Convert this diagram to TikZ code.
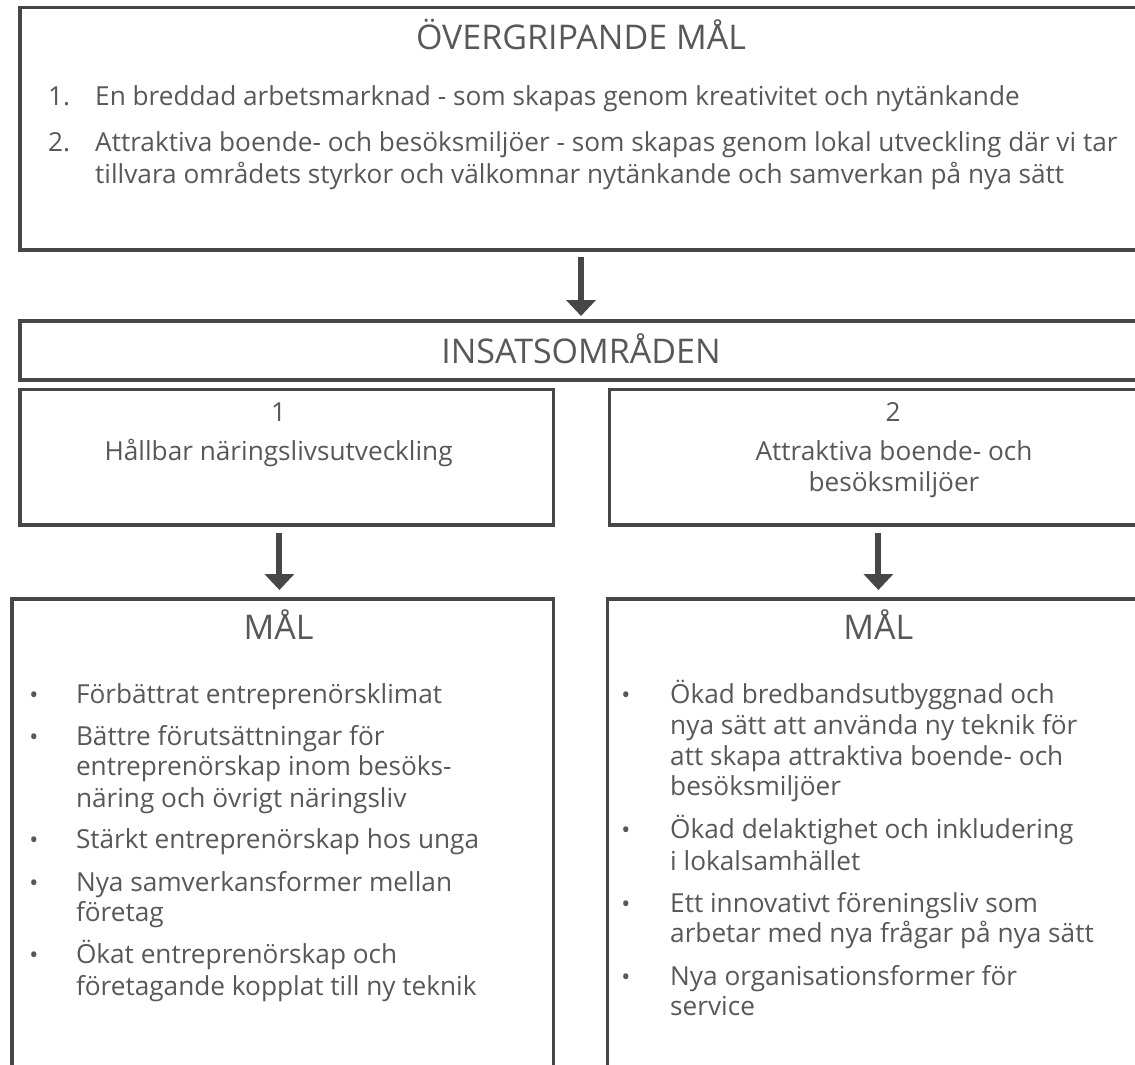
\documentclass[tikz,border=0pt]{standalone}
\usepackage{fontspec}
\setmainfont{Open Sans}
\usetikzlibrary{arrows.meta}
\definecolor{linec}{HTML}{474747}
\definecolor{textc}{HTML}{585858}
\tikzset{
  box/.style={draw=linec, line width=3.2pt, rectangle, inner sep=0pt, outer sep=0pt, anchor=north west},
  head/.style={font=\fontsize{34}{40}\selectfont, text=textc, inner sep=0pt, anchor=base},
  body/.style={font=\fontsize{26.2}{31}\selectfont, text=textc, inner sep=0pt, anchor=base west},
  ctext/.style={font=\fontsize{26.2}{31}\selectfont, text=textc, inner sep=0pt, anchor=base},
  bul/.style={font=\fontsize{24}{31}\selectfont, text=textc, inner sep=0pt, anchor=base},
  arr/.style={draw=linec, line width=6pt, -{Triangle[length=16pt, width=29pt]}},
}
\begin{document}
\begin{tikzpicture}[x=1pt, y=-1pt]
\useasboundingbox (0,0) rectangle (1135,1065);
\clip (0,0) rectangle (1135,1065);
\fill[white] (0,0) rectangle (1135,1065);
% boxes
\node[box, minimum width=1130pt, minimum height=242.5pt] (top) at (20,7.5) {};
\node[box, minimum width=1130pt, minimum height=59pt] (ins) at (20,321) {};
\node[box, minimum width=533.5pt, minimum height=135.5pt] (b1) at (20,389.5) {};
\node[box, minimum width=540pt, minimum height=135.5pt] (b2) at (609.5,389.5) {};
\node[box, minimum width=541.5pt, minimum height=480pt] (m1) at (12,599) {};
\node[box, minimum width=540pt, minimum height=480pt] (m2) at (607.5,599) {};
% top box text
\node[head] (tt) at (581,50) {ÖVERGRIPANDE MÅL};
\node[body] (n1) at (48,106) {1.};
\node[body] (t1) at (95,106) {En breddad arbetsmarknad - som skapas genom kreativitet och nytänkande};
\node[body] (n2) at (48,151.7) {2.};
\node[body] (t2a) at (95,151.7) {Attraktiva boende- och besöksmiljöer - som skapas genom lokal utveckling där vi tar};
\node[body] (t2b) at (95,183.3) {tillvara områdets styrkor och välkomnar nytänkande och samverkan på nya sätt};
% insats
\node[head] (it) at (581,363) {INSATSOMRÅDEN};
\node[ctext] (b1n) at (278.6,421.7) {1};
\node[ctext] (b1t) at (278.6,460.7) {Hållbar näringslivsutveckling};
\node[ctext] (b2n) at (893,421.7) {2};
\node[ctext] (b2t) at (894,460.7) {Attraktiva boende- och};
\node[ctext] (b2u) at (894,491.7) {besöksmiljöer};
% MÅL headers
\node[head] (h1) at (278.6,639.3) {MÅL};
\node[head] (h2) at (878.4,639.3) {MÅL};
% left bullets
\node[bul] (lb1) at (34,703.3) {•};
\node[body] (l1) at (75.8,703.3) {Förbättrat entreprenörsklimat};
\node[bul] (lb2) at (34,745.7) {•};
\node[body] (l2) at (75.8,745.7) {Bättre förutsättningar för};
\node[body] (l3) at (75.8,775.7) {entreprenörskap inom besöks-};
\node[body] (l4) at (75.8,807.7) {näring och övrigt näringsliv};
\node[bul] (lb3) at (34,848.3) {•};
\node[body] (l5) at (75.8,848.3) {Stärkt entreprenörskap hos unga};
\node[bul] (lb4) at (34,891.7) {•};
\node[body] (l6) at (75.8,891.7) {Nya samverkansformer mellan};
\node[body] (l7) at (75.8,921.7) {företag};
\node[bul] (lb5) at (34,963.3) {•};
\node[body] (l8) at (75.8,963.3) {Ökat entreprenörskap och};
\node[body] (l9) at (75.8,995) {företagande kopplat till ny teknik};
% right bullets
\node[bul] (rb1) at (626,703) {•};
\node[body] (r1) at (670,703) {Ökad bredbandsutbyggnad och};
\node[body] (r2) at (670,734) {nya sätt att använda ny teknik för};
\node[body] (r3) at (670,765) {att skapa attraktiva boende- och};
\node[body] (r4) at (670,795) {besöksmiljöer};
\node[bul] (rb2) at (626,838) {•};
\node[body] (r5) at (670,838) {Ökad delaktighet och inkludering};
\node[body] (r6) at (670,870) {i lokalsamhället};
\node[bul] (rb3) at (626,912) {•};
\node[body] (r7) at (670,912) {Ett innovativt föreningsliv som};
\node[body] (r8) at (670,942) {arbetar med nya frågar på nya sätt};
\node[bul] (rb4) at (626,985) {•};
\node[body] (r9) at (670,985) {Nya organisationsformer för};
\node[body] (r10) at (670,1015) {service};
% arrows
\coordinate (x1) at (581,0);
\coordinate (x2) at (279.4,0);
\coordinate (x3) at (878.4,0);
\draw[arr, shorten <=6.5pt, shorten >=5pt] (top.south -| x1) -- (ins.north -| x1);
\draw[arr, shorten <=8pt, shorten >=9pt] (b1.south -| x2) -- (m1.north -| x2);
\draw[arr, shorten <=8pt, shorten >=9pt] (b2.south -| x3) -- (m2.north -| x3);
\end{tikzpicture}
\end{document}
